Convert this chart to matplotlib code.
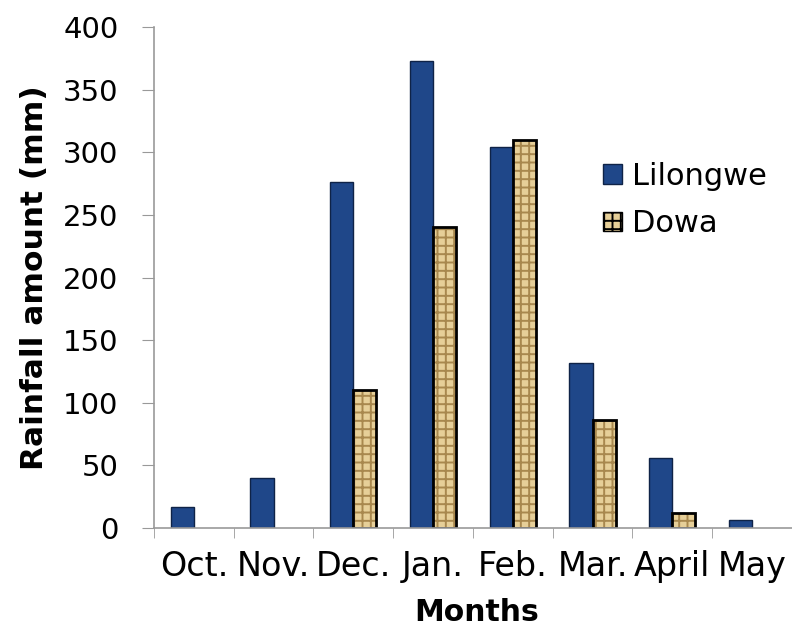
import numpy as np
import matplotlib.pyplot as plt
from matplotlib.patches import Patch

plt.rcParams['font.family'] = ['DejaVu Sans']
plt.rcParams['hatch.linewidth'] = 1.4

months = ['Oct.', 'Nov.', 'Dec.', 'Jan.', 'Feb.', 'Mar.', 'April', 'May']
lilongwe = [17, 40, 276, 373, 304, 132, 56, 6]
dowa = [0, 0, 110, 240, 310, 86, 12, 0]

blue = '#1f4789'
tan = '#e6cf98'
brown = '#a8884e'

fig = plt.figure(figsize=(7.92, 6.30), dpi=100)
ax = fig.add_axes([0.1944, 0.1619, 0.8056, 0.7951])

x = np.arange(len(months))
w = 0.29

ax.bar(x - w / 2, lilongwe, w, color=blue, edgecolor='#0f2347', linewidth=1)

# Dowa bars: textured fill first, black outline drawn over it
d_idx = [i for i, v in enumerate(dowa) if v > 0]
d_vals = [dowa[i] for i in d_idx]
ax.bar(x[d_idx] + w / 2, d_vals, w, color=tan, edgecolor=brown,
       hatch='++', linewidth=0)
ax.bar(x[d_idx] + w / 2, d_vals, w, facecolor='none', edgecolor='black',
       linewidth=2)

ax.set_xlim(-0.5, len(months) - 0.5)
ax.set_ylim(0, 400)
ax.set_yticks(range(0, 401, 50))
ax.set_xticks(x)
ax.set_xticklabels(months)
ax.set_xticks(np.arange(-0.5, len(months), 1), minor=True)
ax.tick_params(axis='x', which='major', length=0, pad=16, labelsize=24)
ax.tick_params(axis='x', which='minor', length=7, color='#999999')
ax.tick_params(axis='y', length=8.6, color='#999999', labelsize=21, pad=17)

for s in ['top', 'right']:
    ax.spines[s].set_visible(False)
for s in ['left', 'bottom']:
    ax.spines[s].set_color('#999999')
    ax.spines[s].set_linewidth(1.2)

ax.set_xlabel('Months', fontsize=21.5, fontweight='bold')
ax.xaxis.set_label_coords(0.505, -0.14)
ax.set_ylabel('Rainfall amount (mm)', fontsize=22.5, fontweight='bold')
ax.yaxis.set_label_coords(-0.165, 0.5)

handles = [Patch(facecolor=blue, edgecolor='#0f2347', label='Lilongwe'),
           Patch(facecolor=tan, edgecolor='black', hatch='++', label='Dowa')]
ax.legend(handles=handles, loc='upper left', bbox_to_anchor=(0.761, 0.743),
          bbox_transform=fig.transFigure, frameon=False, fontsize=22,
          handlelength=0.62, handleheight=0.62, handletextpad=0.33,
          labelspacing=0.6, borderpad=0, borderaxespad=0)

fig.savefig('out.png', dpi=100)
